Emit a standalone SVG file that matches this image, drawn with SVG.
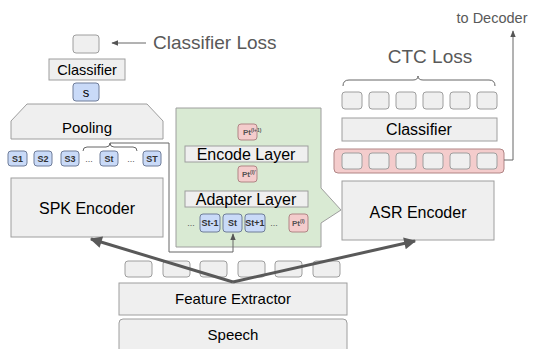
<svg xmlns="http://www.w3.org/2000/svg" width="533" height="349" viewBox="0 0 533 349">
  <style>
    text { font-family: "Liberation Sans", Arial, sans-serif; fill: #000; }
    .box { fill: #efefef; stroke: #9e9e9e; stroke-width: 1; }
    .tok { fill: #c9daf8; stroke: #6f7d99; stroke-width: 1; }
    .pt { fill: #f4cccc; stroke: #b08585; stroke-width: 1; }
    .lbl { font-size: 15px; text-anchor: middle; }
    .big { font-size: 16px; text-anchor: middle; }
    .note { fill: #595959; font-size: 19px; }
    .tt { font-size: 9px; font-weight: bold; text-anchor: middle; fill: #333; }
    .dots { font-size: 9px; fill: #555; text-anchor: middle; }
    .thin { fill: none; stroke: #666; stroke-width: 1; }
    .thick { fill: none; stroke: #595959; stroke-width: 3; }
  </style>
  <defs>
    <marker id="headThin" viewBox="0 0 10 10" refX="9" refY="5" markerWidth="7" markerHeight="7" orient="auto" markerUnits="userSpaceOnUse">
      <path d="M0,1 L10,5 L0,9 Z" fill="#555"/>
    </marker>
    <marker id="headThick" viewBox="0 0 10 10" refX="9" refY="5" markerWidth="5" markerHeight="4" orient="auto">
      <path d="M0,0 L10,5 L0,10 Z" fill="#595959"/>
    </marker>
  </defs>

  <!-- speaker branch -->
  <g id="spk-loss-out">
    <rect class="box" x="73" y="35" width="26" height="18" rx="3"/>
  </g>
  <g id="classifier-loss">
    <text class="note" x="153" y="49">Classifier Loss</text>
  </g>
  <g id="spk-classifier">
    <rect class="box" x="49" y="59" width="76" height="21"/>
    <text class="lbl" x="87" y="75" style="font-size:14.5px">Classifier</text>
  </g>
  <g id="spk-s">
    <rect class="tok" x="73" y="83" width="26" height="18" rx="3"/>
    <text x="86" y="97" style="font-size:13px;text-anchor:middle">s</text>
  </g>
  <g id="pooling">
    <polygon class="box" points="27,104 147,104 163,121 163,139 11,139 11,121"/>
    <text class="lbl" x="87" y="133">Pooling</text>
  </g>
  <g id="spk-tokens">
    <rect class="tok" x="8" y="151" width="19" height="15" rx="3"/>
    <text class="tt" x="17.5" y="162">S1</text>
    <rect class="tok" x="34" y="151" width="18" height="15" rx="3"/>
    <text class="tt" x="43" y="162">S2</text>
    <rect class="tok" x="61" y="151" width="18" height="15" rx="3"/>
    <text class="tt" x="70" y="162">S3</text>
    <text class="dots" x="89" y="162">...</text>
    <rect class="tok" x="100" y="151" width="18" height="15" rx="3"/>
    <text class="tt" x="109" y="162">St</text>
    <text class="dots" x="131" y="162">...</text>
    <rect class="tok" x="143" y="151" width="18" height="15" rx="3"/>
    <text class="tt" x="152" y="162">ST</text>
  </g>
  <g id="spk-encoder">
    <rect class="box" x="11" y="178" width="152" height="59"/>
    <text class="big" x="87" y="214">SPK Encoder</text>
  </g>

  <!-- adapter detail -->
  <g id="adapter-block">
    <polygon points="176,108 321,108 321,188 341,210 321,223 321,247 176,247" fill="#d9ead3" stroke="#9e9e9e" stroke-width="1"/>
    <rect class="pt" x="238" y="124" width="19" height="16" rx="3"/>
    <text x="243" y="135" style="font-size:8px;font-weight:bold;fill:#555">Pt<tspan dy="-3" style="font-size:5px">(l+1)</tspan></text>
    <rect class="box" x="185" y="146" width="123" height="16"/>
    <text class="big" x="246" y="160">Encode Layer</text>
    <rect class="pt" x="238" y="166" width="19" height="16" rx="3"/>
    <text x="242" y="177" style="font-size:8px;font-weight:bold;fill:#555">Pt<tspan dy="-3" style="font-size:5px">(l)'</tspan></text>
    <rect class="box" x="185" y="191" width="123" height="16"/>
    <text class="big" x="246" y="205">Adapter Layer</text>
    <text class="dots" x="191" y="226">...</text>
    <rect class="tok" x="200" y="214" width="20" height="18" rx="3"/>
    <text class="tt" x="210" y="226">St-1</text>
    <rect class="tok" x="223" y="214" width="19" height="18" rx="3"/>
    <text class="tt" x="232.5" y="226">St</text>
    <rect class="tok" x="245" y="214" width="20" height="18" rx="3"/>
    <text class="tt" x="255" y="226">St+1</text>
    <text class="dots" x="274" y="226">...</text>
    <rect class="pt" x="289" y="214" width="19" height="18" rx="3"/>
    <text x="292" y="226" style="font-size:8px;font-weight:bold;fill:#555">Pt<tspan dy="-3" style="font-size:5px">(l)</tspan></text>
  </g>

  <!-- ASR branch -->
  <g id="ctc-loss">
    <text class="note" x="430" y="63" style="text-anchor:middle">CTC Loss</text>
  </g>
  <g id="ctc-out">
    <rect class="box" x="342" y="92" width="20" height="17" rx="3"/>
    <rect class="box" x="369" y="92" width="20" height="17" rx="3"/>
    <rect class="box" x="396" y="92" width="20" height="17" rx="3"/>
    <rect class="box" x="423" y="92" width="20" height="17" rx="3"/>
    <rect class="box" x="450" y="92" width="20" height="17" rx="3"/>
    <rect class="box" x="477" y="92" width="20" height="17" rx="3"/>
  </g>
  <g id="ctc-classifier">
    <rect class="box" x="342" y="118" width="155" height="23"/>
    <text class="big" x="419" y="135">Classifier</text>
  </g>
  <g id="asr-hidden">
    <rect class="pt" x="334" y="149" width="170" height="24" rx="4"/>
    <rect class="box" x="342" y="153" width="20" height="16" rx="3"/>
    <rect class="box" x="369" y="153" width="20" height="16" rx="3"/>
    <rect class="box" x="396" y="153" width="20" height="16" rx="3"/>
    <rect class="box" x="423" y="153" width="20" height="16" rx="3"/>
    <rect class="box" x="450" y="153" width="20" height="16" rx="3"/>
    <rect class="box" x="477" y="153" width="20" height="16" rx="3"/>
  </g>
  <g id="asr-encoder">
    <rect class="box" x="342" y="181" width="152" height="59"/>
    <text class="big" x="418" y="218">ASR Encoder</text>
  </g>
  <g id="to-decoder">
    <text x="492" y="23" style="font-size:14.5px;fill:#595959;text-anchor:middle">to Decoder</text>
  </g>

  <!-- shared front end -->
  <g id="features">
    <rect class="box" x="125" y="261" width="27" height="16" rx="3"/>
    <rect class="box" x="163" y="261" width="27" height="16" rx="3"/>
    <rect class="box" x="200" y="261" width="27" height="16" rx="3"/>
    <rect class="box" x="238" y="261" width="27" height="16" rx="3"/>
    <rect class="box" x="275" y="261" width="27" height="16" rx="3"/>
    <rect class="box" x="313" y="261" width="27" height="16" rx="3"/>
  </g>
  <g id="feature-extractor">
    <rect class="box" x="119" y="283" width="228" height="32"/>
    <text class="lbl" x="233" y="304">Feature Extractor</text>
  </g>
  <g id="speech">
    <path class="box" d="M119,349 V323 Q119,319 123,319 H343 Q347,319 347,323 V349"/>
    <text class="lbl" x="233" y="340">Speech</text>
  </g>

  <!-- connectors -->
  <g id="connectors">
    <path class="thin" d="M146,43 H112" marker-end="url(#headThin)"/>
    <path class="thin" d="M83,151 Q83,147 87,147 H106 Q110,147 110,143 Q110,147 114,147 H133 Q137,147 137,151"/>
    <path class="thin" d="M110,143 H169 V252 H233 V234" marker-end="url(#headThin)"/>
    <path class="thin" d="M343,86 Q343,80 349,80 H413 Q418,80 418,76 Q418,80 423,80 H489 Q495,80 495,86"/>
    <path class="thin" d="M504,160 H513 V31" marker-end="url(#headThin)"/>
    <path class="thick" d="M233,282 L91,239" marker-end="url(#headThick)"/>
    <path class="thick" d="M233,282 L415,241" marker-end="url(#headThick)"/>
  </g>
</svg>
